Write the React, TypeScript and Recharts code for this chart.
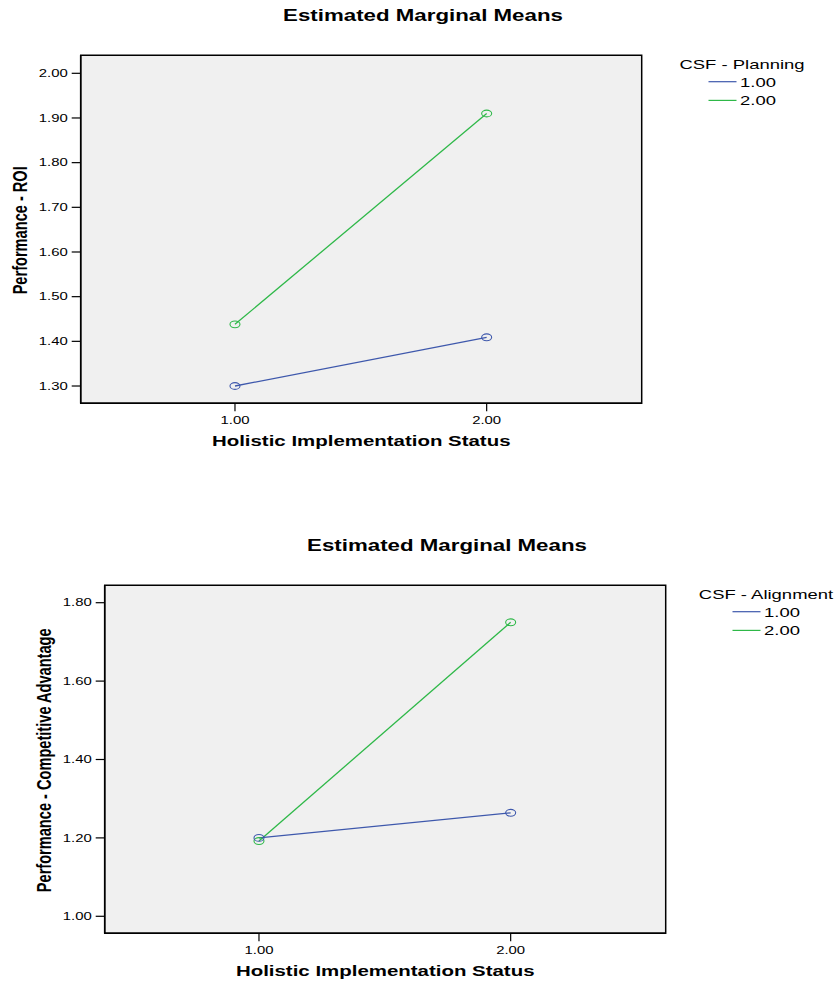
import React from 'react';
import { LineChart, Line, XAxis, YAxis, ReferenceArea, Label } from 'recharts';

// ---- data ----
const hisLevels = [1, 2];
const roiPlanning1 = [1.3, 1.409];
const roiPlanning2 = [1.438, 1.91];
const caAlignment1 = [1.2, 1.264];
const caAlignment2 = [1.192, 1.75];
const roiTicks = [1.3, 1.4, 1.5, 1.6, 1.7, 1.8, 1.9, 2.0];
const caTicks = [1.0, 1.2, 1.4, 1.6, 1.8];
const xTicks = [1, 2];
const seriesLabels = ['1.00', '2.00'];
const chartTitle = 'Estimated Marginal Means';
const xAxisTitle = 'Holistic Implementation Status';

// ---- style ----
const S = 1.42;
const FONT = '"Liberation Sans", Arial, Helvetica, sans-serif';
const BLUE = '#3e58ac';
const GREEN = '#2eb848';
const XDOMAIN: [number, number] = [0.387, 2.616];
const PW = 811;
const PH = 451;

const YTick = (p: any) => (
  <g transform={`translate(${p.x},${p.y}) scale(${S},1)`}>
    <text textAnchor="end" dy="0.35em" fontSize={10.5} fill="#000" fontFamily={FONT}>
      {Number(p.payload.value).toFixed(2)}
    </text>
  </g>
);

const XTick = (p: any) => (
  <g transform={`translate(${p.x},${p.y}) scale(${S},1)`}>
    <text textAnchor="middle" y={10.8} fontSize={10.5} fill="#000" fontFamily={FONT}>
      {Number(p.payload.value).toFixed(2)}
    </text>
  </g>
);

const makeDot = (color: string) => (p: any) => (
  <ellipse
    key={`dot-${color}-${p.index}`}
    cx={p.cx}
    cy={p.cy}
    rx={5}
    ry={3.4}
    fill="none"
    stroke={color}
    strokeWidth={1.1}
  />
);

type PanelProps = {
  left: number;
  top: number;
  yLabel: string;
  legendTitle: string;
  s1: number[];
  s2: number[];
  yDomain: [number, number];
  yTicks: number[];
};

const Panel = ({ left, top, yLabel, legendTitle, s1, s2, yDomain, yTicks }: PanelProps) => {
  const data = hisLevels.map((lv, i) => ({ x: lv, a: s1[i], b: s2[i] }));
  return (
    <div style={{ position: 'absolute', left, top, width: PW, height: PH }}>
      <LineChart
        width={PW}
        height={PH}
        data={data}
        margin={{ top: 55.3, right: 169.3, bottom: 17.7, left: 20.7 }}
      >
        <ReferenceArea
          x1={XDOMAIN[0]}
          x2={XDOMAIN[1]}
          y1={yDomain[0]}
          y2={yDomain[1]}
          fill="#f0f0f0"
          fillOpacity={1}
          stroke="#000"
          strokeWidth={1.5}
          ifOverflow="visible"
        />
        <XAxis
          dataKey="x"
          type="number"
          domain={XDOMAIN}
          ticks={xTicks}
          allowDataOverflow
          height={30}
          tickSize={8}
          tickMargin={2}
          axisLine={{ stroke: '#000', strokeWidth: 1.5 }}
          tickLine={{ stroke: '#000', strokeWidth: 1.2 }}
          tick={XTick}
        >
          <Label
            content={(p: any) => {
              const vb = p.viewBox || { x: 80.7, y: 403.3, width: 561, height: 30 };
              return (
                <g transform={`translate(${vb.x + vb.width / 2},${vb.y + 42.4}) scale(${S},1)`}>
                  <text textAnchor="middle" fontSize={14.4} fontWeight="bold" fill="#000" fontFamily={FONT}>
                    {xAxisTitle}
                  </text>
                </g>
              );
            }}
          />
        </XAxis>
        <YAxis
          type="number"
          domain={yDomain}
          ticks={yTicks}
          allowDataOverflow
          width={60}
          tickSize={9}
          tickMargin={4}
          axisLine={{ stroke: '#000', strokeWidth: 1.5 }}
          tickLine={{ stroke: '#000', strokeWidth: 1.2 }}
          tick={YTick}
        >
          <Label
            content={(p: any) => {
              const vb = p.viewBox || { x: 20.7, y: 55.3, width: 60, height: 348 };
              const cx = vb.x + vb.width - 60.2;
              const cy = vb.y + vb.height / 2 + 1;
              return (
                <text
                  transform={`translate(${cx},${cy}) scale(${S},1) rotate(-90)`}
                  textAnchor="middle"
                  dominantBaseline="central"
                  fontSize={14.6}
                  fontWeight="bold"
                  fill="#000"
                  fontFamily={FONT}
                >
                  {yLabel}
                </text>
              );
            }}
          />
        </YAxis>
        <Line
          type="linear"
          dataKey="b"
          stroke={GREEN}
          strokeWidth={1.3}
          dot={makeDot(GREEN)}
          activeDot={false}
          isAnimationActive={false}
        />
        <Line
          type="linear"
          dataKey="a"
          stroke={BLUE}
          strokeWidth={1.3}
          dot={makeDot(BLUE)}
          activeDot={false}
          isAnimationActive={false}
        />
      </LineChart>
      <svg
        width={PW}
        height={PH}
        style={{ position: 'absolute', left: 0, top: 0, pointerEvents: 'none' }}
      >
        <g transform={`translate(423,20.7) scale(${S},1)`}>
          <text textAnchor="middle" fontSize={15.7} fontWeight="bold" fill="#000" fontFamily={FONT}>
            {chartTitle}
          </text>
        </g>
        <g transform={`translate(742,69.3) scale(${S},1)`}>
          <text textAnchor="middle" fontSize={13} fill="#000" fontFamily={FONT}>
            {legendTitle}
          </text>
        </g>
        {[BLUE, GREEN].map((c, i) => (
          <g key={c}>
            <line x1={708.5} x2={736.5} y1={81.7 + i * 18.7} y2={81.7 + i * 18.7} stroke={c} strokeWidth={1.2} />
            <g transform={`translate(740,${86.6 + i * 18.7}) scale(${S},1)`}>
              <text fontSize={13} fill="#000" fontFamily={FONT}>
                {seriesLabels[i]}
              </text>
            </g>
          </g>
        ))}
      </svg>
    </div>
  );
};

export default function App() {
  return (
    <div
      style={{
        position: 'absolute',
        left: 0,
        top: 0,
        width: 835,
        height: 981,
        overflow: 'hidden',
        background: '#fff',
      }}
    >
      <Panel
        left={0}
        top={0}
        yLabel="Performance - ROI"
        legendTitle="CSF - Planning"
        s1={roiPlanning1}
        s2={roiPlanning2}
        yDomain={[1.2613, 2.0403]}
        yTicks={roiTicks}
      />
      <Panel
        left={23.6}
        top={530}
        yLabel="Performance - Competitive Advantage"
        legendTitle="CSF - Alignment"
        s1={caAlignment1}
        s2={caAlignment2}
        yDomain={[0.9566, 1.8444]}
        yTicks={caTicks}
      />
    </div>
  );
}
